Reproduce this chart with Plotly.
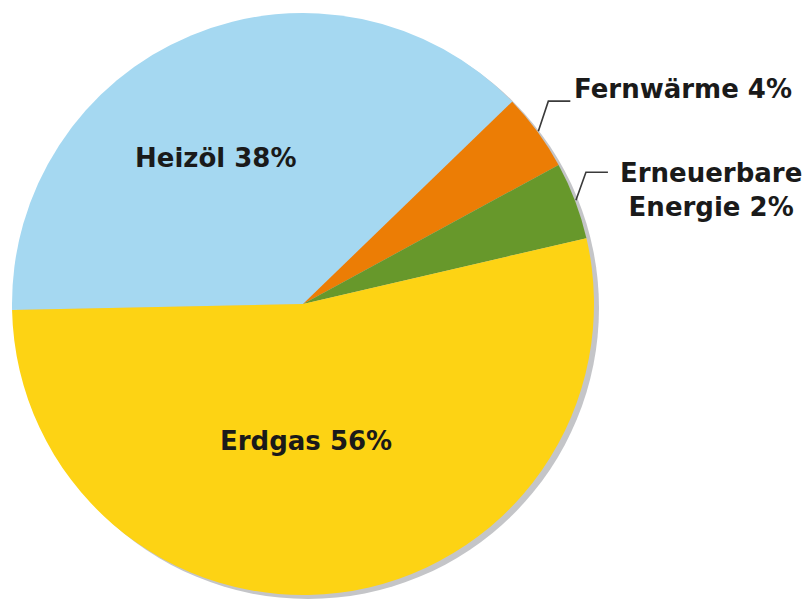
import math
import plotly.graph_objects as go

# Data
categories = ["Heizöl", "Fernwärme", "Erneuerbare Energie", "Erdgas"]
drawn_shares = [38.1, 4.3, 4.3, 53.3]          # angular share as drawn
label_texts = ["Heizöl 38%", "Fernwärme 4%", "Erneuerbare<br>Energie 2%", "Erdgas 56%"]
colors = ["#A5D8F1", "#EC7D05", "#67982B", "#FDD314"]

W, H = 803, 599
CX, CY, R = 303, 304, 291
START_DEG = 181.2  # math angle where first slice starts (going clockwise)


def px(x):
    return x / W


def py(y):
    return 1 - y / H


fig = go.Figure()

# shadow
SX, SY = 5, 4
fig.add_trace(go.Pie(
    values=[1], labels=["shadow"], marker=dict(colors=["#C4C5C8"], line=dict(width=0)),
    textinfo="none", hoverinfo="skip", showlegend=False, sort=False,
    domain=dict(x=[px(CX + SX - R), px(CX + SX + R)], y=[py(CY + SY + R), py(CY + SY - R)]),
))

fig.add_trace(go.Pie(
    values=drawn_shares, labels=categories,
    marker=dict(colors=colors, line=dict(width=0)),
    textinfo="none", showlegend=False, sort=False, direction="clockwise",
    rotation=270 - (START_DEG - 180),
    domain=dict(x=[px(CX - R), px(CX + R)], y=[py(CY + R), py(CY - R)]),
))

font = dict(family="DejaVu Sans", size=26, color="#1A1A1A")
BOLD = "<b>%s</b>"

# mid angles of slices (math degrees)
total = sum(drawn_shares)
mids = []
a = START_DEG
for v in drawn_shares:
    span = v / total * 360
    mids.append(a - span / 2)
    a -= span

annotations = []
shapes = []

# inside labels
annotations.append(dict(x=px(216), y=py(158), xref="paper", yref="paper", text=BOLD % label_texts[0],
                        showarrow=False, font=font, xanchor="center", yanchor="middle"))
annotations.append(dict(x=px(306), y=py(441), xref="paper", yref="paper", text=BOLD % label_texts[3],
                        showarrow=False, font=font, xanchor="center", yanchor="middle"))

# outside labels with leader lines
for idx, (dx, dy, run, tx, ty, anchor, align) in {
    1: (10, -30, 22, 572, 89, "left", "left"),
    2: (10, -28, 22, 711, 190, "center", "center"),
}.items():
    ang = math.radians(mids[idx])
    x0 = CX + (R + 1) * math.cos(ang)
    y0 = CY - (R + 1) * math.sin(ang)
    x1, y1 = x0 + dx, y0 + dy
    x2 = x1 + run
    path = f"M {px(x0)} {py(y0)} L {px(x1)} {py(y1)} L {px(x2)} {py(y1)}"
    shapes.append(dict(type="path", xref="paper", yref="paper", path=path,
                       line=dict(color="#3A3A3A", width=1.6)))
    annotations.append(dict(x=px(tx), y=py(ty), xref="paper", yref="paper", text=BOLD % label_texts[idx],
                            showarrow=False, font=font, xanchor=anchor, yanchor="middle", align=align))

fig.update_layout(
    width=W, height=H, margin=dict(l=0, r=0, t=0, b=0),
    paper_bgcolor="white", plot_bgcolor="white",
    annotations=annotations, shapes=shapes,
)

fig.write_html("out.html", config={"displayModeBar": False},
               post_script="document.body.style.margin='0';")
